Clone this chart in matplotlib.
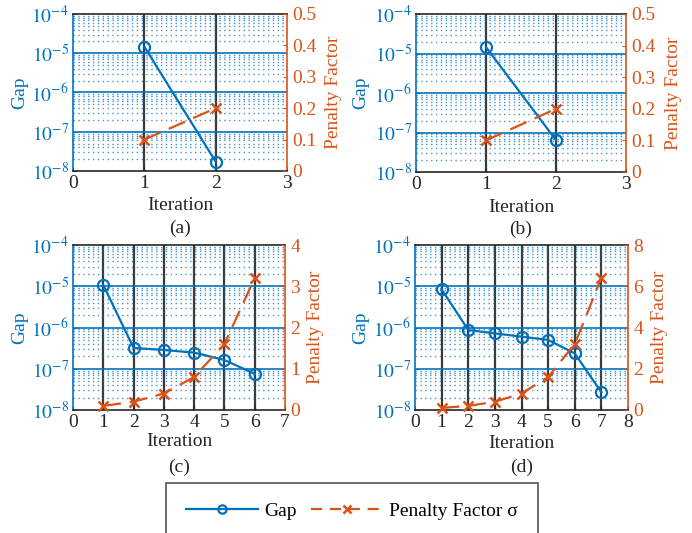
import matplotlib
matplotlib.use("Agg")
import matplotlib.pyplot as plt
import numpy as np
from matplotlib.lines import Line2D
from matplotlib.ticker import FixedLocator

plt.rcParams['font.family'] = ['Liberation Serif', 'DejaVu Serif']
plt.rcParams['mathtext.fontset'] = 'stix'
plt.rcParams['font.size'] = 14

BLUE = '#0072BD'
ORANGE = '#D95319'
DARK = '#262626'

# Convergence history for the four cases
iters_a = [1, 2]
gap_a = [1.47e-5, 1.73e-8]
pen_a = [0.1, 0.2]

iters_b = [1, 2]
gap_b = [1.45e-5, 6.4e-8]
pen_b = [0.1, 0.2]

iters_c = [1, 2, 3, 4, 5, 6]
gap_c = [1.07e-5, 3.2e-7, 2.85e-7, 2.46e-7, 1.63e-7, 7.5e-8]
pen_c = [0.1, 0.2, 0.4, 0.8, 1.6, 3.2]

iters_d = [1, 2, 3, 4, 5, 6, 7]
gap_d = [8.4e-6, 8.7e-7, 7.2e-7, 6.0e-7, 5.0e-7, 2.35e-7, 2.7e-8]
pen_d = [0.1, 0.2, 0.4, 0.8, 1.6, 3.2, 6.4]

captions = ['(a)', '(b)', '(c)', '(d)']
xmax = [3, 3, 7, 8]
pen_max = [0.5, 0.5, 4, 8]
pen_ticks = [[0, 0.1, 0.2, 0.3, 0.4, 0.5],
             [0, 0.1, 0.2, 0.3, 0.4, 0.5],
             [0, 1, 2, 3, 4],
             [0, 2, 4, 6, 8]]
pen_labels = [['0', '0.1', '0.2', '0.3', '0.4', '0.5'],
              ['0', '0.1', '0.2', '0.3', '0.4', '0.5'],
              ['0', '1', '2', '3', '4'],
              ['0', '2', '4', '6', '8']]
gap_ticks = [1e-8, 1e-7, 1e-6, 1e-5, 1e-4]
gap_labels = [r'$10^{-8}$', r'$10^{-7}$', r'$10^{-6}$', r'$10^{-5}$', r'$10^{-4}$']

W, H = 692, 533
fig = plt.figure(figsize=(W / 100, H / 100), dpi=100)

# panel boxes in pixels: left, top, right, bottom
boxes = [(73, 14, 287, 171), (416, 14, 626, 172),
         (73, 245, 285, 410), (415, 245, 628, 410)]
# label anchor positions in pixels: gap-label x, penalty-label x, iteration-label y
label_pos = [(20, 333, 205), (361, 674, 207), (20, 315, 442), (361, 659, 443)]

data = [(iters_a, gap_a, pen_a), (iters_b, gap_b, pen_b),
        (iters_c, gap_c, pen_c), (iters_d, gap_d, pen_d)]

for i, ((l, t, r, b), (it, gap, pen)) in enumerate(zip(boxes, data)):
    ax = fig.add_axes([l / W, 1 - b / H, (r - l) / W, (b - t) / H])
    ax.set_yscale('log')
    ax.set_ylim(1e-8, 1e-4)
    ax.set_xlim(0, xmax[i])
    ax.set_xticks(range(0, xmax[i] + 1))

    # grid: dark vertical at integers, blue solid at decades, blue dotted minors
    for x in range(1, xmax[i]):
        ax.axvline(x, color='#3a3a3a', lw=1.6, zorder=1)
    for e in range(-7, -4):
        ax.axhline(10.0 ** e, color=BLUE, lw=1.4, alpha=0.85, zorder=1)
    for e in range(-8, -4):
        for m in range(2, 10):
            ax.axhline(m * 10.0 ** e, color=BLUE, lw=1.0, ls=(0, (1, 2.5)),
                       alpha=0.75, zorder=1)

    ax.yaxis.set_major_locator(FixedLocator(gap_ticks))
    ax.yaxis.set_minor_locator(FixedLocator([]))
    ax.set_yticklabels(gap_labels)
    ax.tick_params(axis='y', colors=BLUE, labelsize=14, direction='in',
                   length=3, pad=3)
    ax.tick_params(axis='x', colors=DARK, labelsize=14, direction='in',
                   length=3, pad=3)
    ax.spines['left'].set_color(BLUE)
    ax.spines['right'].set_color(ORANGE)
    ax.spines['top'].set_color(DARK)
    ax.spines['bottom'].set_color(DARK)
    for s in ax.spines.values():
        s.set_linewidth(1.2)

    ax.plot(it, gap, color=BLUE, lw=1.6, marker='o', ms=8, mfc='none',
            mew=1.6, zorder=5, clip_on=False)

    gx, px, iy = label_pos[i]
    ymid = 1 - (t + b) / 2 / H
    ax.set_ylabel('Gap', color=BLUE, fontsize=14, va='center', ha='center')
    ax.yaxis.set_label_coords(gx / W, ymid, transform=fig.transFigure)
    ax.set_xlabel('Iteration', color=DARK, fontsize=14, va='center', ha='center')
    ax.xaxis.set_label_coords((l + r) / 2 / W, 1 - iy / H, transform=fig.transFigure)

    ax2 = ax.twinx()
    ax2.set_ylim(0, pen_max[i])
    ax2.set_yticks(pen_ticks[i])
    ax2.set_yticklabels(pen_labels[i])
    ax2.tick_params(axis='y', colors=ORANGE, labelsize=14, direction='in',
                    length=3, pad=4)
    for s in ax2.spines.values():
        s.set_visible(False)
    ax2.plot(it, pen, color=ORANGE, lw=1.6, ls=(0, (8, 4)), marker='x',
             ms=7, mew=1.8, zorder=5, clip_on=False)
    ax2.set_ylabel('Penalty Factor', color=ORANGE, fontsize=14, va='center',
                   ha='center')
    ax2.yaxis.set_label_coords(px / W, ymid, transform=fig.transFigure)

    fig.text((l + r) / 2 / W, 1 - (b + 57) / H, captions[i], ha='center',
             va='center', fontsize=14, color=DARK)

handles = [
    Line2D([], [], color=BLUE, lw=1.6, marker='o', ms=6, mfc='none', mew=1.6),
    Line2D([], [], color=ORANGE, lw=1.6, ls=(0, (5, 3.5)), marker='x', ms=6,
           mew=1.8),
]
leg = fig.legend(handles, ['Gap', 'Penalty Factor σ'],
                 loc='upper center', bbox_to_anchor=(352 / W, 1 - 483 / H),
                 borderaxespad=0, ncol=2, frameon=True, fancybox=False,
                 fontsize=14, handlelength=3.7, borderpad=1.0,
                 columnspacing=0.7, handletextpad=0.35, edgecolor=DARK)
leg.get_frame().set_linewidth(1.2)

fig.savefig('out.png', dpi=100)
